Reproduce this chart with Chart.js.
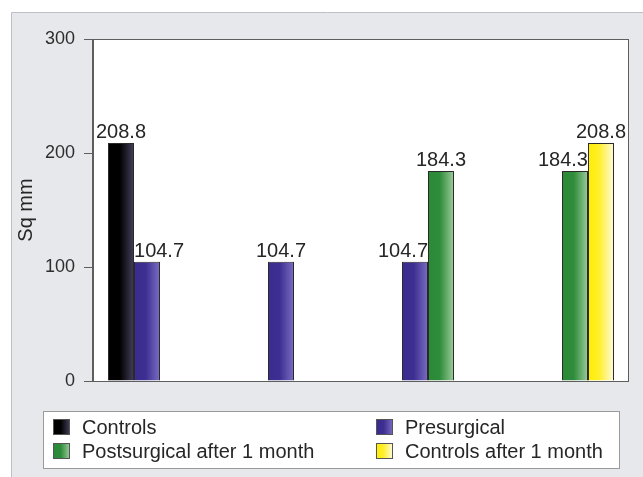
<!DOCTYPE html>
<html>
<head>
<meta charset="utf-8">
<script src="https://cdn.jsdelivr.net/npm/chart.js@4/dist/chart.umd.min.js"></script>
<style>
  html, body { margin: 0; padding: 0; background: #ffffff; }
  #wrap { position: relative; width: 643px; height: 477px; }
</style>
</head>
<body>
<div id="wrap"><canvas id="c" width="643" height="477"></canvas></div>
<script>
// ---- data ----
const categories = ['Controls vs presurgical', 'Presurgical', 'Presurgical vs postsurgical', 'Postsurgical vs controls'];
const seriesNames = ['Controls', 'Presurgical', 'Postsurgical after 1 month', 'Controls after 1 month'];
const controls = [208.8, null, null, null];
const presurgical = [104.7, 104.7, 104.7, null];
const postsurgical = [null, null, 184.3, 184.3];
const controlsAfter = [null, null, null, 208.8];
const yTicks = [0, 100, 200, 300];

// ---- styles ----
const gradStops = [
  ['#000000', '#000000', '#453f5c'],
  ['#3a2b8f', '#3d2e92', '#7a6dc2'],
  ['#2a8a36', '#2e8c3a', '#9ccb9c'],
  ['#ffec00', '#fff030', '#fffbe0']
];
const labelAlign = [
  ['center', null, null, null],
  ['left', 'center', 'right', null],
  [null, null, 'center', 'right'],
  [null, null, null, 'center']
];
const FONT = '"Liberation Sans", Arial, sans-serif';

function makeGrad(ctx, x0, x1, stops) {
  const g = ctx.createLinearGradient(x0, 0, x1, 0);
  g.addColorStop(0, stops[0]);
  g.addColorStop(0.45, stops[1]);
  g.addColorStop(1, stops[2]);
  return g;
}

const framePlugin = {
  id: 'frame',
  beforeDraw(chart) {
    const ctx = chart.ctx;
    ctx.save();
    ctx.fillStyle = '#ffffff';
    ctx.fillRect(0, 0, chart.width, chart.height);
    ctx.fillStyle = '#e6e8eb';
    ctx.fillRect(12, 13, chart.width - 12, chart.height - 13);
    ctx.strokeStyle = '#bcc0c4';
    ctx.lineWidth = 1;
    ctx.beginPath();
    ctx.moveTo(11.5, chart.height);
    ctx.lineTo(11.5, 12.5);
    ctx.lineTo(chart.width, 12.5);
    ctx.stroke();
    const a = chart.chartArea;
    ctx.fillStyle = '#ffffff';
    ctx.fillRect(a.left, a.top, a.right - a.left, a.bottom - a.top);
    ctx.restore();
  },
  beforeDatasetsDraw(chart) {
    chart.data.datasets.forEach((ds, di) => {
      const meta = chart.getDatasetMeta(di);
      meta.data.forEach((el, i) => {
        if (ds.data[i] === null) return;
        const x0 = el.x - el.width / 2, x1 = el.x + el.width / 2;
        el.options = Object.assign({}, el.options, {
          backgroundColor: makeGrad(chart.ctx, x0, x1, gradStops[di])
        });
      });
    });
  },
  afterDatasetsDraw(chart) {
    const ctx = chart.ctx;
    const a = chart.chartArea;
    ctx.save();
    ctx.strokeStyle = '#5e5e5e';
    ctx.lineWidth = 1;
    ctx.strokeRect(Math.round(a.left) - 0.5, Math.round(a.top) + 0.5, Math.round(a.right - a.left), Math.round(a.bottom - a.top));
    // value labels
    ctx.fillStyle = '#262626';
    ctx.font = '20px ' + FONT;
    ctx.textBaseline = 'alphabetic';
    chart.data.datasets.forEach((ds, di) => {
      const meta = chart.getDatasetMeta(di);
      meta.data.forEach((el, i) => {
        const v = ds.data[i];
        if (v === null) return;
        const al = labelAlign[di][i] || 'center';
        let x = el.x;
        if (al === 'left') x = el.x - el.width / 2;
        if (al === 'right') x = el.x + el.width / 2;
        ctx.textAlign = al;
        ctx.fillText(v.toFixed(1), x, el.y - 5);
      });
    });
    // legend
    const lx = 43.5, ly = 411.5, lw = 576, lh = 57;
    ctx.fillStyle = '#ffffff';
    ctx.fillRect(lx, ly, lw, lh);
    ctx.strokeStyle = '#9a9a9a';
    ctx.strokeRect(lx, ly, lw, lh);
    const cols = [53, 376];
    const rows = [419, 443];
    ctx.font = '20px ' + FONT;
    ctx.textAlign = 'left';
    ctx.textBaseline = 'middle';
    chart.data.datasets.forEach((ds, di) => {
      const cx = cols[di % 2], cy = rows[Math.floor(di / 2)];
      ctx.fillStyle = makeGrad(ctx, cx, cx + 17, gradStops[di]);
      ctx.fillRect(cx, cy, 17, 16);
      ctx.strokeStyle = '#555555';
      ctx.strokeRect(cx + 0.5, cy + 0.5, 16, 15);
      ctx.fillStyle = '#262626';
      ctx.fillText(ds.label, cx + 29, cy + 9);
    });
    ctx.restore();
  }
};

const datasets = [controls, presurgical, postsurgical, controlsAfter].map((d, i) => ({
  label: seriesNames[i],
  data: d,
  backgroundColor: gradStops[i][0],
  borderColor: '#2a2a2a',
  borderWidth: 1,
  borderSkipped: 'bottom',
  barPercentage: 1.0,
  categoryPercentage: 0.776
}));

new Chart(document.getElementById('c'), {
  type: 'bar',
  data: { labels: categories, datasets },
  options: {
    responsive: false,
    animation: false,
    devicePixelRatio: 1,
    layout: { padding: { top: 39, right: 14, bottom: 96, left: 0 } },
    plugins: { legend: { display: false }, tooltip: { enabled: false } },
    scales: {
      x: {
        ticks: { display: false },
        grid: { display: false, drawTicks: false },
        border: { display: false },
        afterFit(s) { s.height = 0; }
      },
      y: {
        min: 0, max: 300,
        afterBuildTicks(s) { s.ticks = yTicks.map(v => ({ value: v })); },
        ticks: { color: '#2e2e2e', font: { family: FONT, size: 18 }, padding: 9 },
        grid: { drawOnChartArea: false, tickLength: 9, color: '#5e5e5e' },
        border: { display: true, color: '#5e5e5e' },
        title: { display: true, text: 'Sq mm', color: '#262626', font: { family: FONT, size: 20 }, padding: { top: 14, bottom: 0 } },
        afterFit(s) { s.width = 93; }
      }
    }
  },
  plugins: [framePlugin]
});
</script>
</body>
</html>
